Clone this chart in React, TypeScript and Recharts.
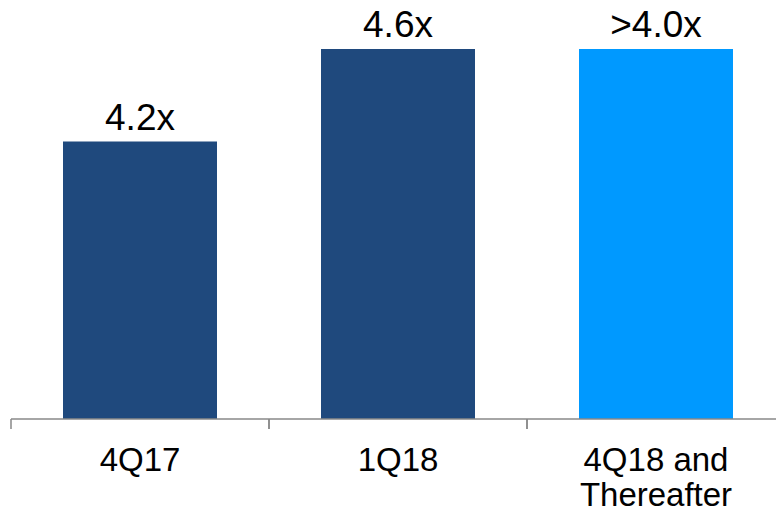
import * as React from 'react';
import { BarChart, Bar, Cell, XAxis, YAxis, LabelList } from 'recharts';

// Chart values
const categories = ['4Q17', '1Q18', '4Q18 and\nThereafter'];
const leverage = [4.2, 4.6, 4.6];
const valueLabels = ['4.2x', '4.6x', '>4.0x'];
const barColors = ['#1F497D', '#1F497D', '#0099FF'];

const data = categories.map((name, i) => ({
  name,
  value: leverage[i],
  label: valueLabels[i],
}));

const FONT = '"Liberation Sans", Arial, sans-serif';
const CHART_WIDTH = 785;
const MARGIN_LEFT = 11;
const BAND = (CHART_WIDTH - MARGIN_LEFT) / categories.length;

function CategoryTick(props: any) {
  const { x, y, payload } = props;
  const lines = String(payload.value).split('\n');
  const left = x - BAND / 2;
  return (
    <g>
      <line x1={left} y1={y} x2={left} y2={y + 10} stroke="#898989" strokeWidth={1.5} />
      <line x1={left + BAND} y1={y} x2={left + BAND} y2={y + 10} stroke="#898989" strokeWidth={1.5} />
      {lines.map((line, i) => (
        <text
          key={i}
          x={x}
          y={y + 52 + i * 35}
          textAnchor="middle"
          fill="#000"
          fontSize={33}
          fontFamily={FONT}
        >
          {line}
        </text>
      ))}
    </g>
  );
}

function ValueLabel(props: any) {
  const { x, y, width, value } = props;
  return (
    <text
      x={x + width / 2}
      y={y - 12}
      textAnchor="middle"
      fill="#000"
      fontSize={37}
      fontFamily={FONT}
    >
      {value}
    </text>
  );
}

export default function App() {
  return (
    <div
      style={{
        position: 'absolute',
        left: 0,
        top: 0,
        width: 776,
        height: 513,
        overflow: 'hidden',
        background: '#fff',
      }}
    >
      <BarChart
        width={CHART_WIDTH}
        height={513}
        data={data}
        margin={{ top: 49, right: 0, left: MARGIN_LEFT, bottom: 0 }}
        barSize={154}
      >
        <XAxis
          dataKey="name"
          height={94}
          interval={0}
          tickSize={0}
          tickMargin={0}
          tickLine={false}
          axisLine={{ stroke: '#898989', strokeWidth: 1.5 }}
          tick={<CategoryTick />}
        />
        <YAxis hide type="number" domain={[3.0, 4.6]} allowDataOverflow />
        <Bar dataKey="value" isAnimationActive={false}>
          {data.map((_, i) => (
            <Cell key={`cell-${i}`} fill={barColors[i]} />
          ))}
          <LabelList dataKey="label" content={<ValueLabel />} />
        </Bar>
      </BarChart>
    </div>
  );
}
